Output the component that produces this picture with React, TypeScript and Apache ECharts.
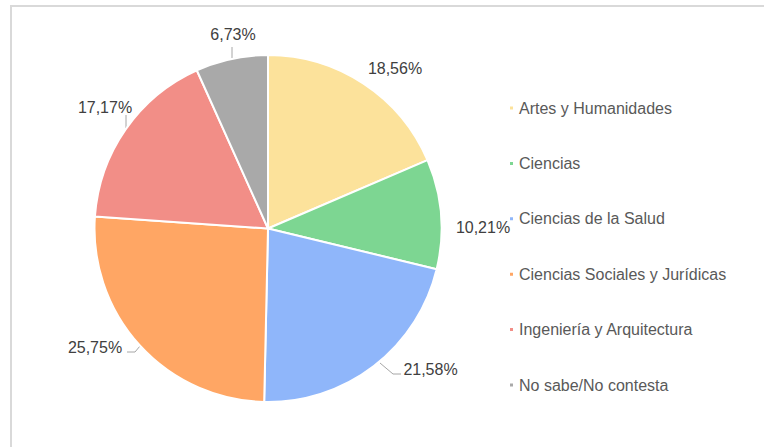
import React, { useEffect, useRef } from "react";
import * as echarts from "echarts";

const categories = [
  "Artes y Humanidades",
  "Ciencias",
  "Ciencias de la Salud",
  "Ciencias Sociales y Jurídicas",
  "Ingeniería y Arquitectura",
  "No sabe/No contesta",
];
const values = [18.56, 10.21, 21.58, 25.75, 17.17, 6.73];
const colors = ["#FCE29B", "#7DD692", "#8FB6FA", "#FFA664", "#F28E87", "#A9A9A9"];

// label placement (Excel "best fit" style), text center + optional leader line
const labelPlacement: { x: number; y: number; line: number[][] | null }[] = [
  { x: 395, y: 68, line: null },
  { x: 483, y: 227, line: null },
  { x: 430.5, y: 369, line: [[380, 363], [393, 374], [401, 374]] },
  { x: 95, y: 347, line: [[140, 346], [135, 352], [127, 352]] },
  { x: 105, y: 107, line: [[126, 128], [126, 121], [126, 115]] },
  { x: 233, y: 34, line: [[232, 58], [232, 52], [232, 47]] },
];

export default function App() {
  const ref = useRef<HTMLDivElement>(null);
  useEffect(() => {
    if (!ref.current) return;
    const chart = echarts.init(ref.current, null, { renderer: "svg" });
    chart.setOption({
      animation: false,
      backgroundColor: "#ffffff",
      graphic: [
        {
          type: "rect",
          shape: { x: 11, y: 6, width: 800, height: 500 },
          style: { fill: "none", stroke: "#D9D9D9", lineWidth: 2 },
          silent: true,
        },
      ],
      legend: {
        orient: "vertical",
        left: 508,
        top: 100,
        padding: 0,
        itemWidth: 5,
        itemHeight: 5,
        itemGap: 39.4,
        icon: "rect",
        textStyle: { fontFamily: "Liberation Sans", fontSize: 16, lineHeight: 16, color: "#595959" },
        data: categories,
      },
      series: [
        {
          type: "pie",
          center: [268, 228.5],
          radius: [0, 173.5],
          startAngle: 90,
          clockwise: true,
          color: colors,
          itemStyle: { borderColor: "#ffffff", borderWidth: 2 },
          label: {
            show: true,
            position: "outside",
            formatter: (p: any) => p.value.toFixed(2).replace(".", ",") + "%",
            fontFamily: "Liberation Sans",
            fontSize: 16,
            color: "#404040",
          },
          labelLine: { show: true, length: 8, length2: 6, lineStyle: { color: "#A6A6A6", width: 1 } },
          labelLayout: (params: any) => {
            const p = labelPlacement[params.dataIndex];
            const out: any = { x: p.x, y: p.y, align: "center", verticalAlign: "middle" };
            if (p.line) out.labelLinePoints = p.line;
            return out;
          },
          data: categories.map((name, i) => ({
            name,
            value: values[i],
            labelLine: { show: !!labelPlacement[i].line },
          })),
        },
      ],
    });
    return () => chart.dispose();
  }, []);
  return <div ref={ref} style={{ width: 764, height: 447, position: "absolute", left: 0, top: 0 }} />;
}
